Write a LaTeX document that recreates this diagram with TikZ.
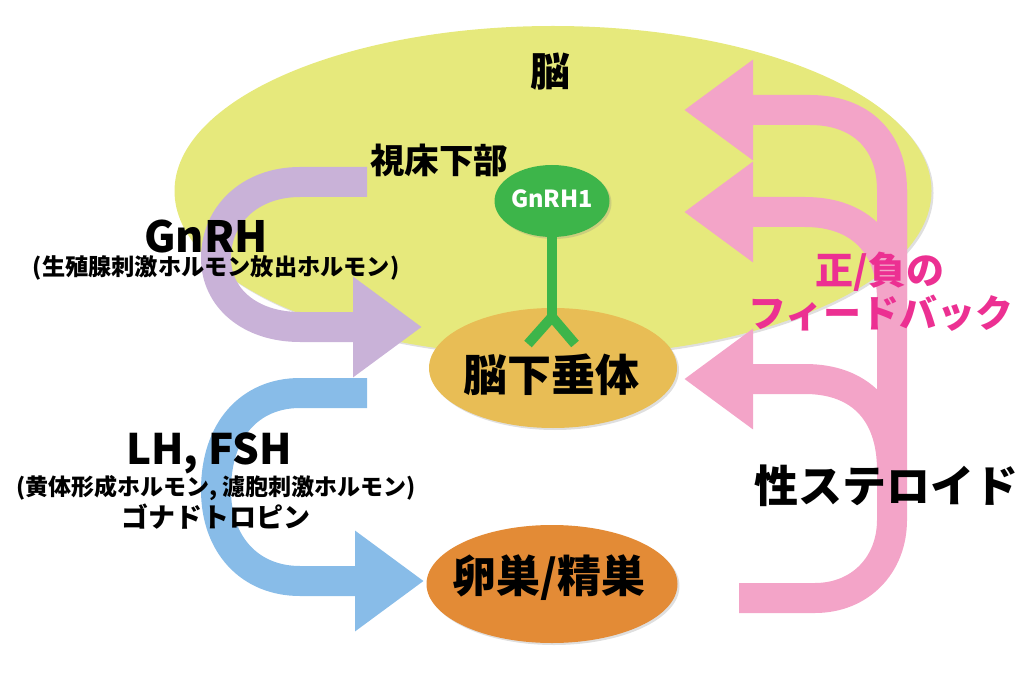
\documentclass[tikz,border=0pt]{standalone}
\usepackage{fontspec}
\setmainfont{Noto Sans CJK JP}
\usetikzlibrary{arrows.meta, shapes.geometric, shadows}
\definecolor{brainyellow}{HTML}{E6E97C}
\definecolor{pitorange}{HTML}{E8BD55}
\definecolor{gonadorange}{HTML}{E38B36}
\definecolor{gnrhgreen}{HTML}{3DB54A}
\definecolor{gnrhpurple}{HTML}{C9B2D8}
\definecolor{lhblue}{HTML}{88BCE8}
\definecolor{steroidpink}{HTML}{F3A4C8}
\definecolor{fbpink}{HTML}{EC3092}
\newcommand{\fsz}[1]{\fontsize{#1}{#1}\selectfont\bfseries}
\tikzset{
  organ/.style={ellipse, inner sep=0pt, drop shadow={shadow xshift=2pt, shadow yshift=-2pt, opacity=.25}},
  label/.style={inner sep=0pt, align=center},
  fatarrow/.style={line width=30pt, -{Triangle[length=69pt, width=96pt]}},
  fatline/.style={line width=30pt}
}
\begin{document}
\begin{tikzpicture}[x=1pt, y=-1pt]
    \useasboundingbox (0,0) rectangle (1024,692);
    \node[organ, fill=brainyellow, minimum width=757pt, minimum height=330pt] (brain) at (553,191) {};
    \node[organ, fill=pitorange, minimum width=248pt, minimum height=120pt] (pituitary) at (553,368) {};
    \node[organ, fill=gonadorange, minimum width=251pt, minimum height=118pt] (gonad) at (552,584) {};
    \node[organ, fill=gnrhgreen, minimum width=115pt, minimum height=72pt] (gnrhone) at (552,201) {};
    %\\
    \coordinate (gnrhstart) at (367,182);
    \coordinate (gnrhtip) at (422,327);
    \draw[gnrhpurple, fatarrow] (gnrhstart) -- (300,182) .. controls (250,182) and (216,215) .. (216,258) .. controls (216,298) and (250,327) .. (300,327) -- (gnrhtip);
    %\\
    \coordinate (lhstart) at (367,393);
    \coordinate (lhtip) at (424,581);
    \draw[lhblue, fatarrow] (lhstart) -- (300,393) .. controls (250,393) and (216,430) .. (216,490) .. controls (216,545) and (250,581) .. (300,581) -- (lhtip);
    %\\
    \coordinate (steroidstart) at (739,598);
    \coordinate (fbtopstem) at (892,300);
    \coordinate (fbmidstem) at (892,470);
    \coordinate (fbtoptip) at (684,110);
    \coordinate (fbmidtip) at (684,212);
    \coordinate (fblowtip) at (684,379);
    \draw[steroidpink, fatline] (steroidstart) -- (815,598) .. controls (860,598) and (892,565) .. (892,520) -- (892,190);
    \draw[steroidpink, fatarrow] (fbtopstem) -- (892,190) .. controls (892,140) and (860,110) .. (810,110) -- (fbtoptip);
    \draw[steroidpink, fatarrow] (fbtopstem) .. controls (892,245) and (860,212) .. (805,212) -- (fbmidtip);
    \draw[steroidpink, fatarrow] (fbmidstem) .. controls (892,412) and (860,379) .. (805,379) -- (fblowtip);
    %\\
    \coordinate (forkleft) at (528,344);
    \coordinate (forkright) at (575,344);
    \coordinate (forkroot) at (552,317);
    \draw[gnrhgreen, line width=10pt] (gnrhone) -- (forkroot);
    \draw[gnrhgreen, line width=10pt] (forkleft) -- (forkroot) -- (forkright);
    %\\
    \node[label] (brainlabel) at (550,72) {\fsz{40}脳};
    \node[label] (hypolabel) at (439,160) {\fsz{34.5}視床下部};
    \node[label, white] (gnrhonelabel) at (552,199) {\fsz{23.5}GnRH1};
    \node[label] (pitlabel) at (551,375) {\fsz{44}脳下垂体};
    \node[label] (gonadlabel) at (549,578) {\fsz{44}卵巣/精巣};
    \node[label] (gnrhlabel) at (206,237) {\fsz{43}GnRH};
    \node[label] (gnrhfull) at (216,268) {\fsz{23.2}(生殖腺刺激ホルモン放出ホルモン)};
    \node[label] (lhlabel) at (209,453) {\fsz{42}LH, FSH};
    \node[label] (lhfull) at (216,488) {\fsz{23}(黄体形成ホルモン, 濾胞刺激ホルモン)};
    \node[label] (gonadotropin) at (216,517) {\fsz{27}ゴナドトロピン};
    \node[label, fbpink] (fbtop) at (880,272) {\fsz{38}正/負の};
    \node[label, fbpink] (fbbottom) at (881,313) {\fsz{38}フィードバック};
    \node[label] (steroidlabel) at (886,486) {\fsz{44}性ステロイド};
\end{tikzpicture}
\end{document}
